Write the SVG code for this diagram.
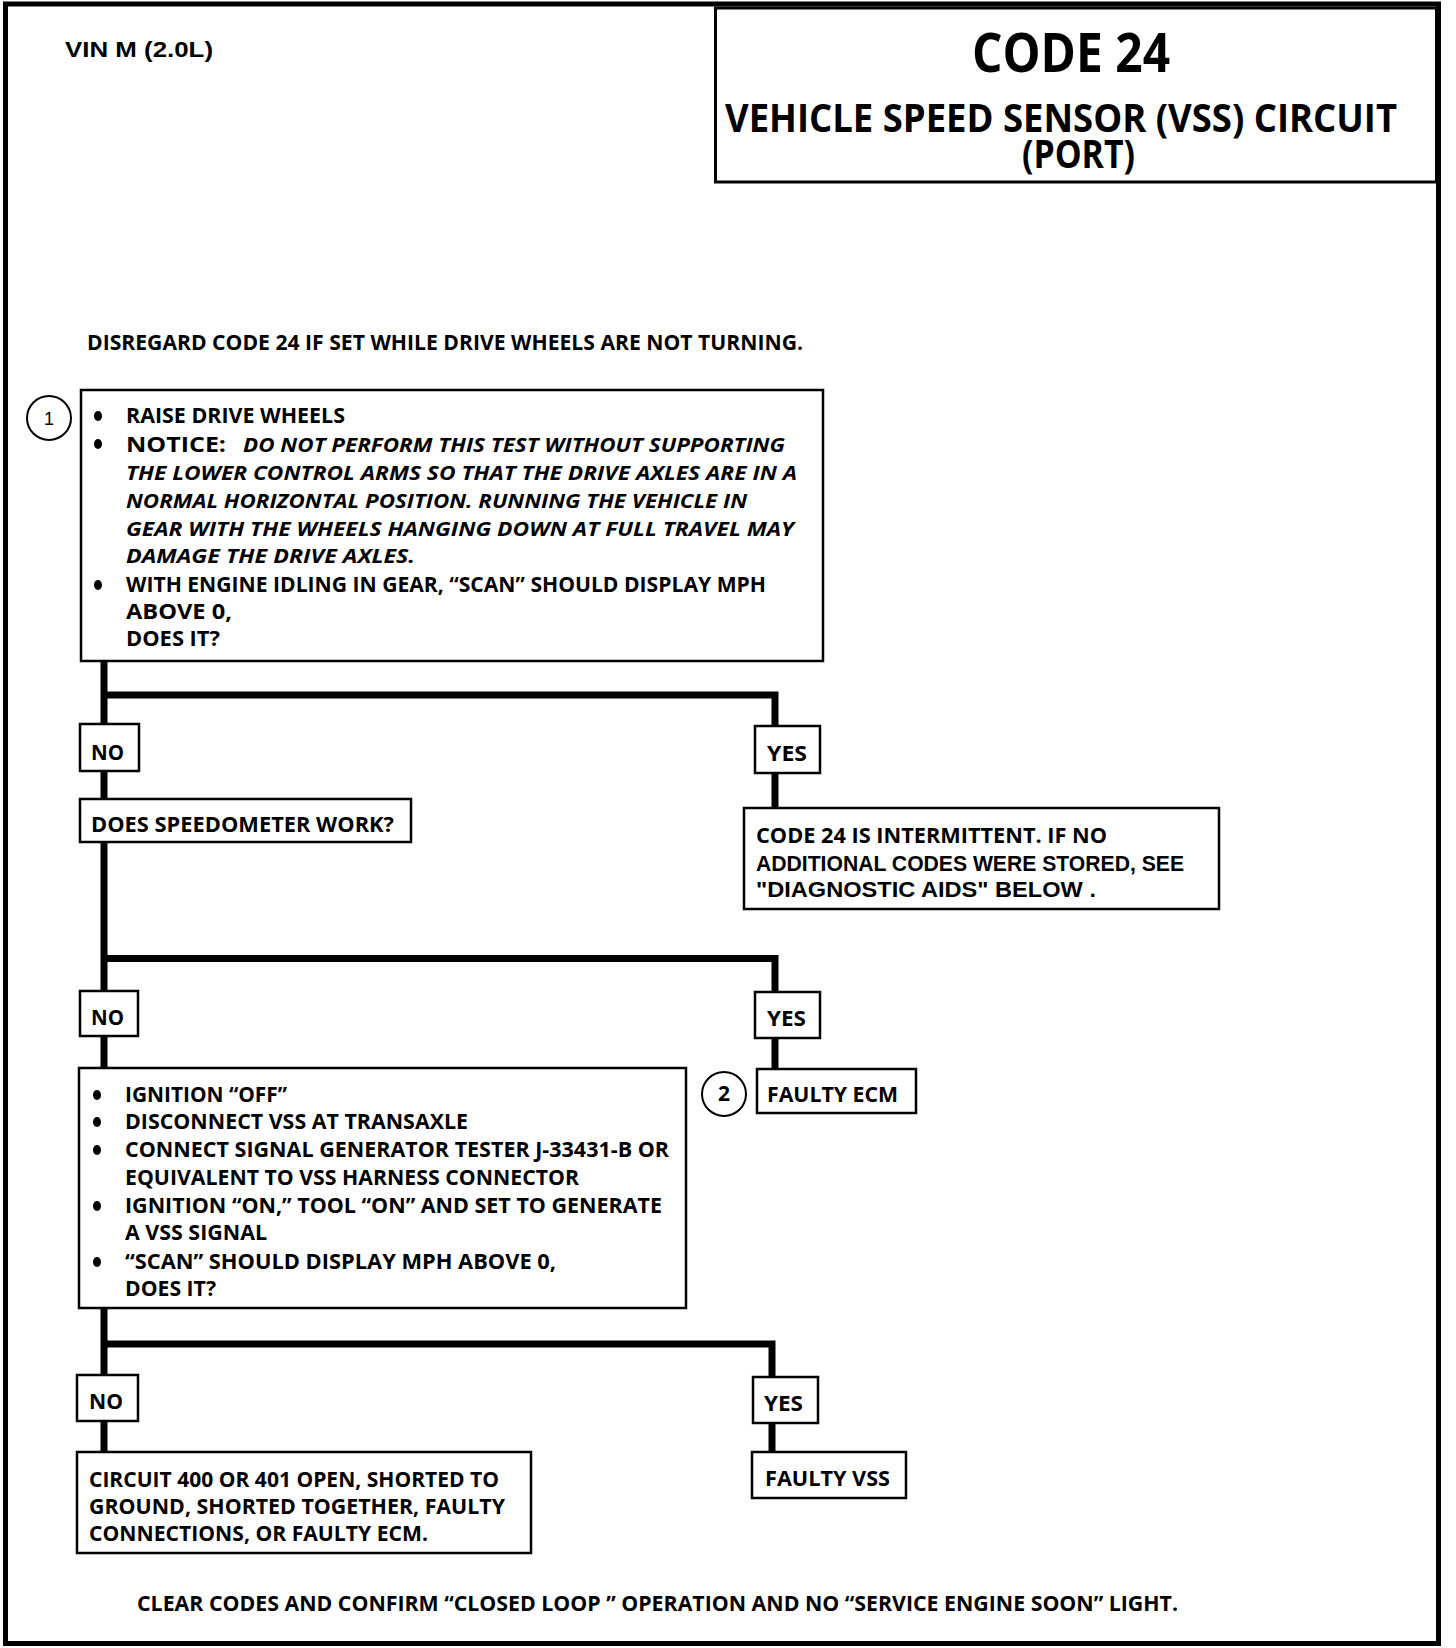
<svg xmlns="http://www.w3.org/2000/svg" width="1456" height="1648" viewBox="0 0 1456 1648">
<style>
.bg{fill:#fff}
.frame{fill:none;stroke:#000;stroke-width:5}
.box{fill:#fff;stroke:#000;stroke-width:2.5}
.conn{fill:none;stroke:#000;stroke-width:7;stroke-linejoin:miter;stroke-linecap:butt}
.circ{fill:#fff;stroke:#000;stroke-width:2}
.t{font-family:"Open Sans","Noto Sans",sans-serif;font-weight:700;font-size:21px;fill:#000}
.ti{font-family:"Open Sans","Noto Sans",sans-serif;font-weight:700;font-style:italic;font-size:20px;fill:#000}
.a{font-family:"Liberation Sans",Arial,sans-serif;font-weight:700;font-size:22px;fill:#000}
.n{font-family:"Liberation Sans",Arial,sans-serif;font-weight:400;font-size:18px;fill:#000}
.ttl{font-family:"Open Sans","Noto Sans",sans-serif;font-weight:700;fill:#000}
</style>
<rect class="bg" x="0" y="0" width="1456" height="1648"/>
<rect class="frame" x="5.5" y="4" width="1433" height="1639.5"/>

<g id="header">
<text class="a" x="65" y="57" font-size="26" textLength="148" lengthAdjust="spacingAndGlyphs">VIN M (2.0L)</text>
</g>
<g id="title">
<rect x="715.5" y="8" width="721" height="174" fill="none" stroke="#000" stroke-width="3"/>
<text class="ttl" x="972" y="72" font-size="54" textLength="198" lengthAdjust="spacingAndGlyphs">CODE 24</text>
<text class="ttl" x="725" y="132" font-size="40" textLength="672" lengthAdjust="spacingAndGlyphs">VEHICLE SPEED SENSOR (VSS) CIRCUIT</text>
<text class="ttl" x="1022" y="168" font-size="40" textLength="113" lengthAdjust="spacingAndGlyphs">(PORT)</text>
</g>
<g id="note-top">
<text class="t" x="87" y="350" textLength="716" lengthAdjust="spacingAndGlyphs">DISREGARD CODE 24 IF SET WHILE DRIVE WHEELS ARE NOT TURNING.</text>
</g>

<g id="connectors">
<path class="conn" d="M104 661 V1068"/>
<path class="conn" d="M104 695 H775 V808"/>
<path class="conn" d="M104 958.5 H775 V1069"/>
<path class="conn" d="M104 1308 V1452"/>
<path class="conn" d="M104 1344 H772 V1452"/>
</g>

<g id="marker-1">
<circle class="circ" cx="49" cy="418" r="22"/>
<text class="n" x="49" y="425" text-anchor="middle">1</text>
</g>

<g id="step1">
<rect class="box" x="81" y="390" width="742" height="271"/>
<ellipse cx="98" cy="416" rx="4" ry="5"/>
<text class="t" x="126" y="423" textLength="219" lengthAdjust="spacingAndGlyphs">RAISE DRIVE WHEELS</text>
<ellipse cx="98" cy="444" rx="4" ry="5"/>
<text class="t" x="126" y="452" font-size="26" textLength="100" lengthAdjust="spacingAndGlyphs">NOTICE:</text>
<text class="ti" x="243" y="452" textLength="542" lengthAdjust="spacingAndGlyphs">DO NOT PERFORM THIS TEST WITHOUT SUPPORTING</text>
<text class="ti" x="126" y="480" textLength="671" lengthAdjust="spacingAndGlyphs">THE LOWER CONTROL ARMS SO THAT THE DRIVE AXLES ARE IN A</text>
<text class="ti" x="126" y="508" textLength="621" lengthAdjust="spacingAndGlyphs">NORMAL HORIZONTAL POSITION.  RUNNING THE VEHICLE IN</text>
<text class="ti" x="126" y="536" textLength="668" lengthAdjust="spacingAndGlyphs">GEAR WITH THE WHEELS HANGING DOWN AT FULL TRAVEL MAY</text>
<text class="ti" x="126" y="563" textLength="289" lengthAdjust="spacingAndGlyphs">DAMAGE THE DRIVE AXLES.</text>
<ellipse cx="98" cy="585" rx="4" ry="5"/>
<text class="t" x="126" y="592" textLength="640" lengthAdjust="spacingAndGlyphs">WITH ENGINE IDLING IN GEAR, “SCAN” SHOULD DISPLAY MPH</text>
<text class="t" x="126" y="619" textLength="106" lengthAdjust="spacingAndGlyphs">ABOVE  0,</text>
<text class="t" x="126" y="646" textLength="94" lengthAdjust="spacingAndGlyphs">DOES IT?</text>
</g>

<g id="no-1">
<rect class="box" x="80" y="724" width="59" height="47"/>
<text class="t" x="91" y="760" textLength="33" lengthAdjust="spacingAndGlyphs">NO</text>
</g>
<g id="yes-1">
<rect class="box" x="755" y="726" width="65" height="47"/>
<text class="t" x="767" y="761" textLength="40" lengthAdjust="spacingAndGlyphs">YES</text>
</g>
<g id="speedometer">
<rect class="box" x="80" y="799" width="331" height="43"/>
<text class="t" x="91" y="832" textLength="303" lengthAdjust="spacingAndGlyphs">DOES SPEEDOMETER WORK?</text>
</g>
<g id="intermittent">
<rect class="box" x="744" y="808" width="475" height="101"/>
<text class="t" x="756" y="843" font-size="22" textLength="351" lengthAdjust="spacingAndGlyphs">CODE 24  IS INTERMITTENT.  IF NO</text>
<text class="a" x="756" y="871" textLength="428" lengthAdjust="spacingAndGlyphs">ADDITIONAL CODES WERE STORED,  SEE</text>
<text class="a" x="756" y="897" textLength="340" lengthAdjust="spacingAndGlyphs">"DIAGNOSTIC AIDS" BELOW  .</text>
</g>

<g id="no-2">
<rect class="box" x="80" y="991" width="58" height="45"/>
<text class="t" x="91" y="1025" textLength="33" lengthAdjust="spacingAndGlyphs">NO</text>
</g>
<g id="yes-2">
<rect class="box" x="755" y="992" width="65" height="46"/>
<text class="t" x="767" y="1026" textLength="39" lengthAdjust="spacingAndGlyphs">YES</text>
</g>
<g id="marker-2">
<circle class="circ" cx="724" cy="1094" r="22"/>
<text class="t" x="724" y="1101" text-anchor="middle" font-size="20">2</text>
</g>
<g id="faulty-ecm">
<rect class="box" x="757" y="1069" width="159" height="44"/>
<text class="t" x="767" y="1102" textLength="131" lengthAdjust="spacingAndGlyphs">FAULTY ECM</text>
</g>

<g id="step3">
<rect class="box" x="79" y="1068" width="607" height="240"/>
<ellipse cx="97" cy="1095" rx="4" ry="5"/>
<text class="t" x="125" y="1102" textLength="162" lengthAdjust="spacingAndGlyphs">IGNITION “OFF”</text>
<ellipse cx="97" cy="1122" rx="4" ry="5"/>
<text class="t" x="125" y="1129" textLength="343" lengthAdjust="spacingAndGlyphs">DISCONNECT VSS AT TRANSAXLE</text>
<ellipse cx="97" cy="1150" rx="4" ry="5"/>
<text class="t" x="125" y="1157" textLength="544" lengthAdjust="spacingAndGlyphs">CONNECT SIGNAL GENERATOR TESTER  J-33431-B OR</text>
<text class="t" x="125" y="1185" textLength="454" lengthAdjust="spacingAndGlyphs">EQUIVALENT TO VSS HARNESS CONNECTOR</text>
<ellipse cx="97" cy="1206" rx="4" ry="5"/>
<text class="t" x="125" y="1213" textLength="537" lengthAdjust="spacingAndGlyphs">IGNITION “ON,” TOOL “ON” AND SET TO GENERATE</text>
<text class="t" x="125" y="1240" textLength="142" lengthAdjust="spacingAndGlyphs">A VSS SIGNAL</text>
<ellipse cx="97" cy="1262" rx="4" ry="5"/>
<text class="t" x="125" y="1269" textLength="431" lengthAdjust="spacingAndGlyphs">“SCAN” SHOULD DISPLAY MPH ABOVE  0,</text>
<text class="t" x="125" y="1296" textLength="91" lengthAdjust="spacingAndGlyphs">DOES IT?</text>
</g>

<g id="no-3">
<rect class="box" x="77" y="1375" width="61" height="46"/>
<text class="t" x="89" y="1409" textLength="34" lengthAdjust="spacingAndGlyphs">NO</text>
</g>
<g id="yes-3">
<rect class="box" x="753" y="1377" width="65" height="46"/>
<text class="t" x="764" y="1411" textLength="39" lengthAdjust="spacingAndGlyphs">YES</text>
</g>
<g id="circuit">
<rect class="box" x="77" y="1452" width="454" height="101"/>
<text class="t" x="89" y="1487" textLength="410" lengthAdjust="spacingAndGlyphs">CIRCUIT 400 OR 401 OPEN, SHORTED TO</text>
<text class="t" x="89" y="1514" textLength="416" lengthAdjust="spacingAndGlyphs">GROUND, SHORTED TOGETHER, FAULTY</text>
<text class="t" x="89" y="1541" textLength="339" lengthAdjust="spacingAndGlyphs">CONNECTIONS, OR FAULTY ECM.</text>
</g>
<g id="faulty-vss">
<rect class="box" x="752" y="1452" width="154" height="46"/>
<text class="t" x="765" y="1486" textLength="125" lengthAdjust="spacingAndGlyphs">FAULTY VSS</text>
</g>

<g id="note-bottom">
<text class="t" x="137" y="1611" textLength="1041" lengthAdjust="spacingAndGlyphs">CLEAR CODES AND CONFIRM “CLOSED LOOP ”  OPERATION AND NO “SERVICE ENGINE SOON” LIGHT.</text>
</g>
</svg>
